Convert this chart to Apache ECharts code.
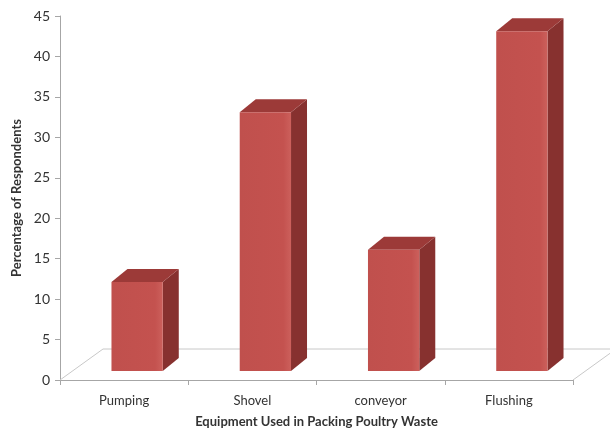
<!DOCTYPE html>
<html>
<head>
<meta charset="utf-8">
<script src="https://cdn.jsdelivr.net/npm/echarts@6/dist/echarts.min.js"></script>
<style>
  html, body { margin: 0; padding: 0; background: #fff; }
  #chart { width: 610px; height: 430px; }
</style>
</head>
<body>
<div id="chart"></div>
<script>
var categories = ['Pumping', 'Shovel', 'conveyor', 'Flushing'];
var percentValues = [11, 32, 15, 42];
var yTicks = [0, 5, 10, 15, 20, 25, 30, 35, 40, 45];

var FONT = 'Lato, "Open Sans", sans-serif';

// 3d look: front face pushed a bit into the floor, then a short depth
var FACE_DX = 13, FACE_DY = -9;
var DEPTH_DX = 16, DEPTH_DY = -13;
var FLOOR_DX = 43, FLOOR_DY = -31;

var renderBar = function (params, api) {
    var idx = api.value(0);
    var base = api.coord([idx, 0]);
    var top = api.coord([idx, api.value(1)]);
    var w = api.size([1, 0])[0] * 0.4;
    var x0 = base[0] - w / 2 + FACE_DX;
    var x1 = x0 + w;
    var yb = base[1] + FACE_DY;
    var yt = top[1] + FACE_DY;
    return {
        type: 'group',
        children: [
            {
                type: 'polygon',
                shape: { points: [[x1, yt], [x1 + DEPTH_DX, yt + DEPTH_DY], [x1 + DEPTH_DX, yb + DEPTH_DY], [x1, yb]] },
                style: { fill: '#87312f' }
            },
            {
                type: 'polygon',
                shape: { points: [[x0, yt], [x1, yt], [x1 + DEPTH_DX, yt + DEPTH_DY], [x0 + DEPTH_DX, yt + DEPTH_DY]] },
                style: { fill: '#9c3a38' }
            },
            {
                type: 'rect',
                shape: { x: x0, y: yt, width: w, height: yb - yt },
                style: {
                    fill: {
                        type: 'linear', x: 0, y: 0, x2: 1, y2: 0,
                        colorStops: [
                            { offset: 0, color: '#c0504d' },
                            { offset: 0.85, color: '#c4524f' },
                            { offset: 1, color: '#cc605c' }
                        ]
                    }
                }
            }
        ]
    };
};

// floor of the plot, drawn from the grid's rect
var renderFloor = function (params, api) {
    var cs = params.coordSys;
    var yf = cs.y + cs.height;
    var xl = cs.x, xr = cs.x + cs.width;
    return {
        type: 'polyline',
        shape: {
            points: [
                [xl, yf], [xl + FLOOR_DX, yf + FLOOR_DY],
                [xr + FLOOR_DX, yf + FLOOR_DY], [xr, yf]
            ]
        },
        style: { stroke: '#c8c8c8', lineWidth: 1, fill: null }
    };
};

var barData = categories.map(function (c, i) { return [i, percentValues[i]]; });

var option = {
    animation: false,
    textStyle: { fontFamily: FONT },
    grid: { left: 60, right: 37, top: 16, bottom: 50, containLabel: false, outerBoundsMode: 'none' },
    xAxis: {
        type: 'category',
        data: categories,
        boundaryGap: true,
        name: 'Equipment Used in Packing Poultry Waste',
        nameLocation: 'middle',
        nameGap: 35,
        nameTextStyle: { fontFamily: FONT, fontSize: 13, fontWeight: 'bold', color: '#333' },
        axisLine: { lineStyle: { color: '#a6a6a6' } },
        axisTick: { show: true, length: 5, lineStyle: { color: '#a6a6a6' } },
        axisLabel: { fontFamily: FONT, fontSize: 13, color: '#333', margin: 14 },
        splitLine: { show: false }
    },
    yAxis: {
        type: 'value',
        min: yTicks[0],
        max: yTicks[yTicks.length - 1],
        interval: 5,
        name: 'Percentage of Respondents',
        nameLocation: 'middle',
        nameGap: 36,
        nameTextStyle: { fontFamily: FONT, fontSize: 13, fontWeight: 'bold', color: '#333' },
        axisLine: { show: true, lineStyle: { color: '#a6a6a6' } },
        axisTick: { show: true, length: 5, lineStyle: { color: '#a6a6a6' } },
        axisLabel: { fontFamily: FONT, fontSize: 14, color: '#333', margin: 10 },
        splitLine: { show: false }
    },
    series: [
        {
            name: 'floor',
            type: 'custom',
            renderItem: renderFloor,
            data: [[0, 0]],
            silent: true,
            z: 1
        },
        {
            name: 'Percentage',
            type: 'custom',
            renderItem: renderBar,
            encode: { x: 0, y: 1 },
            data: barData,
            z: 2
        }
    ]
};

var myChart = echarts.init(document.getElementById('chart'));
myChart.setOption(option);
</script>
</body>
</html>
